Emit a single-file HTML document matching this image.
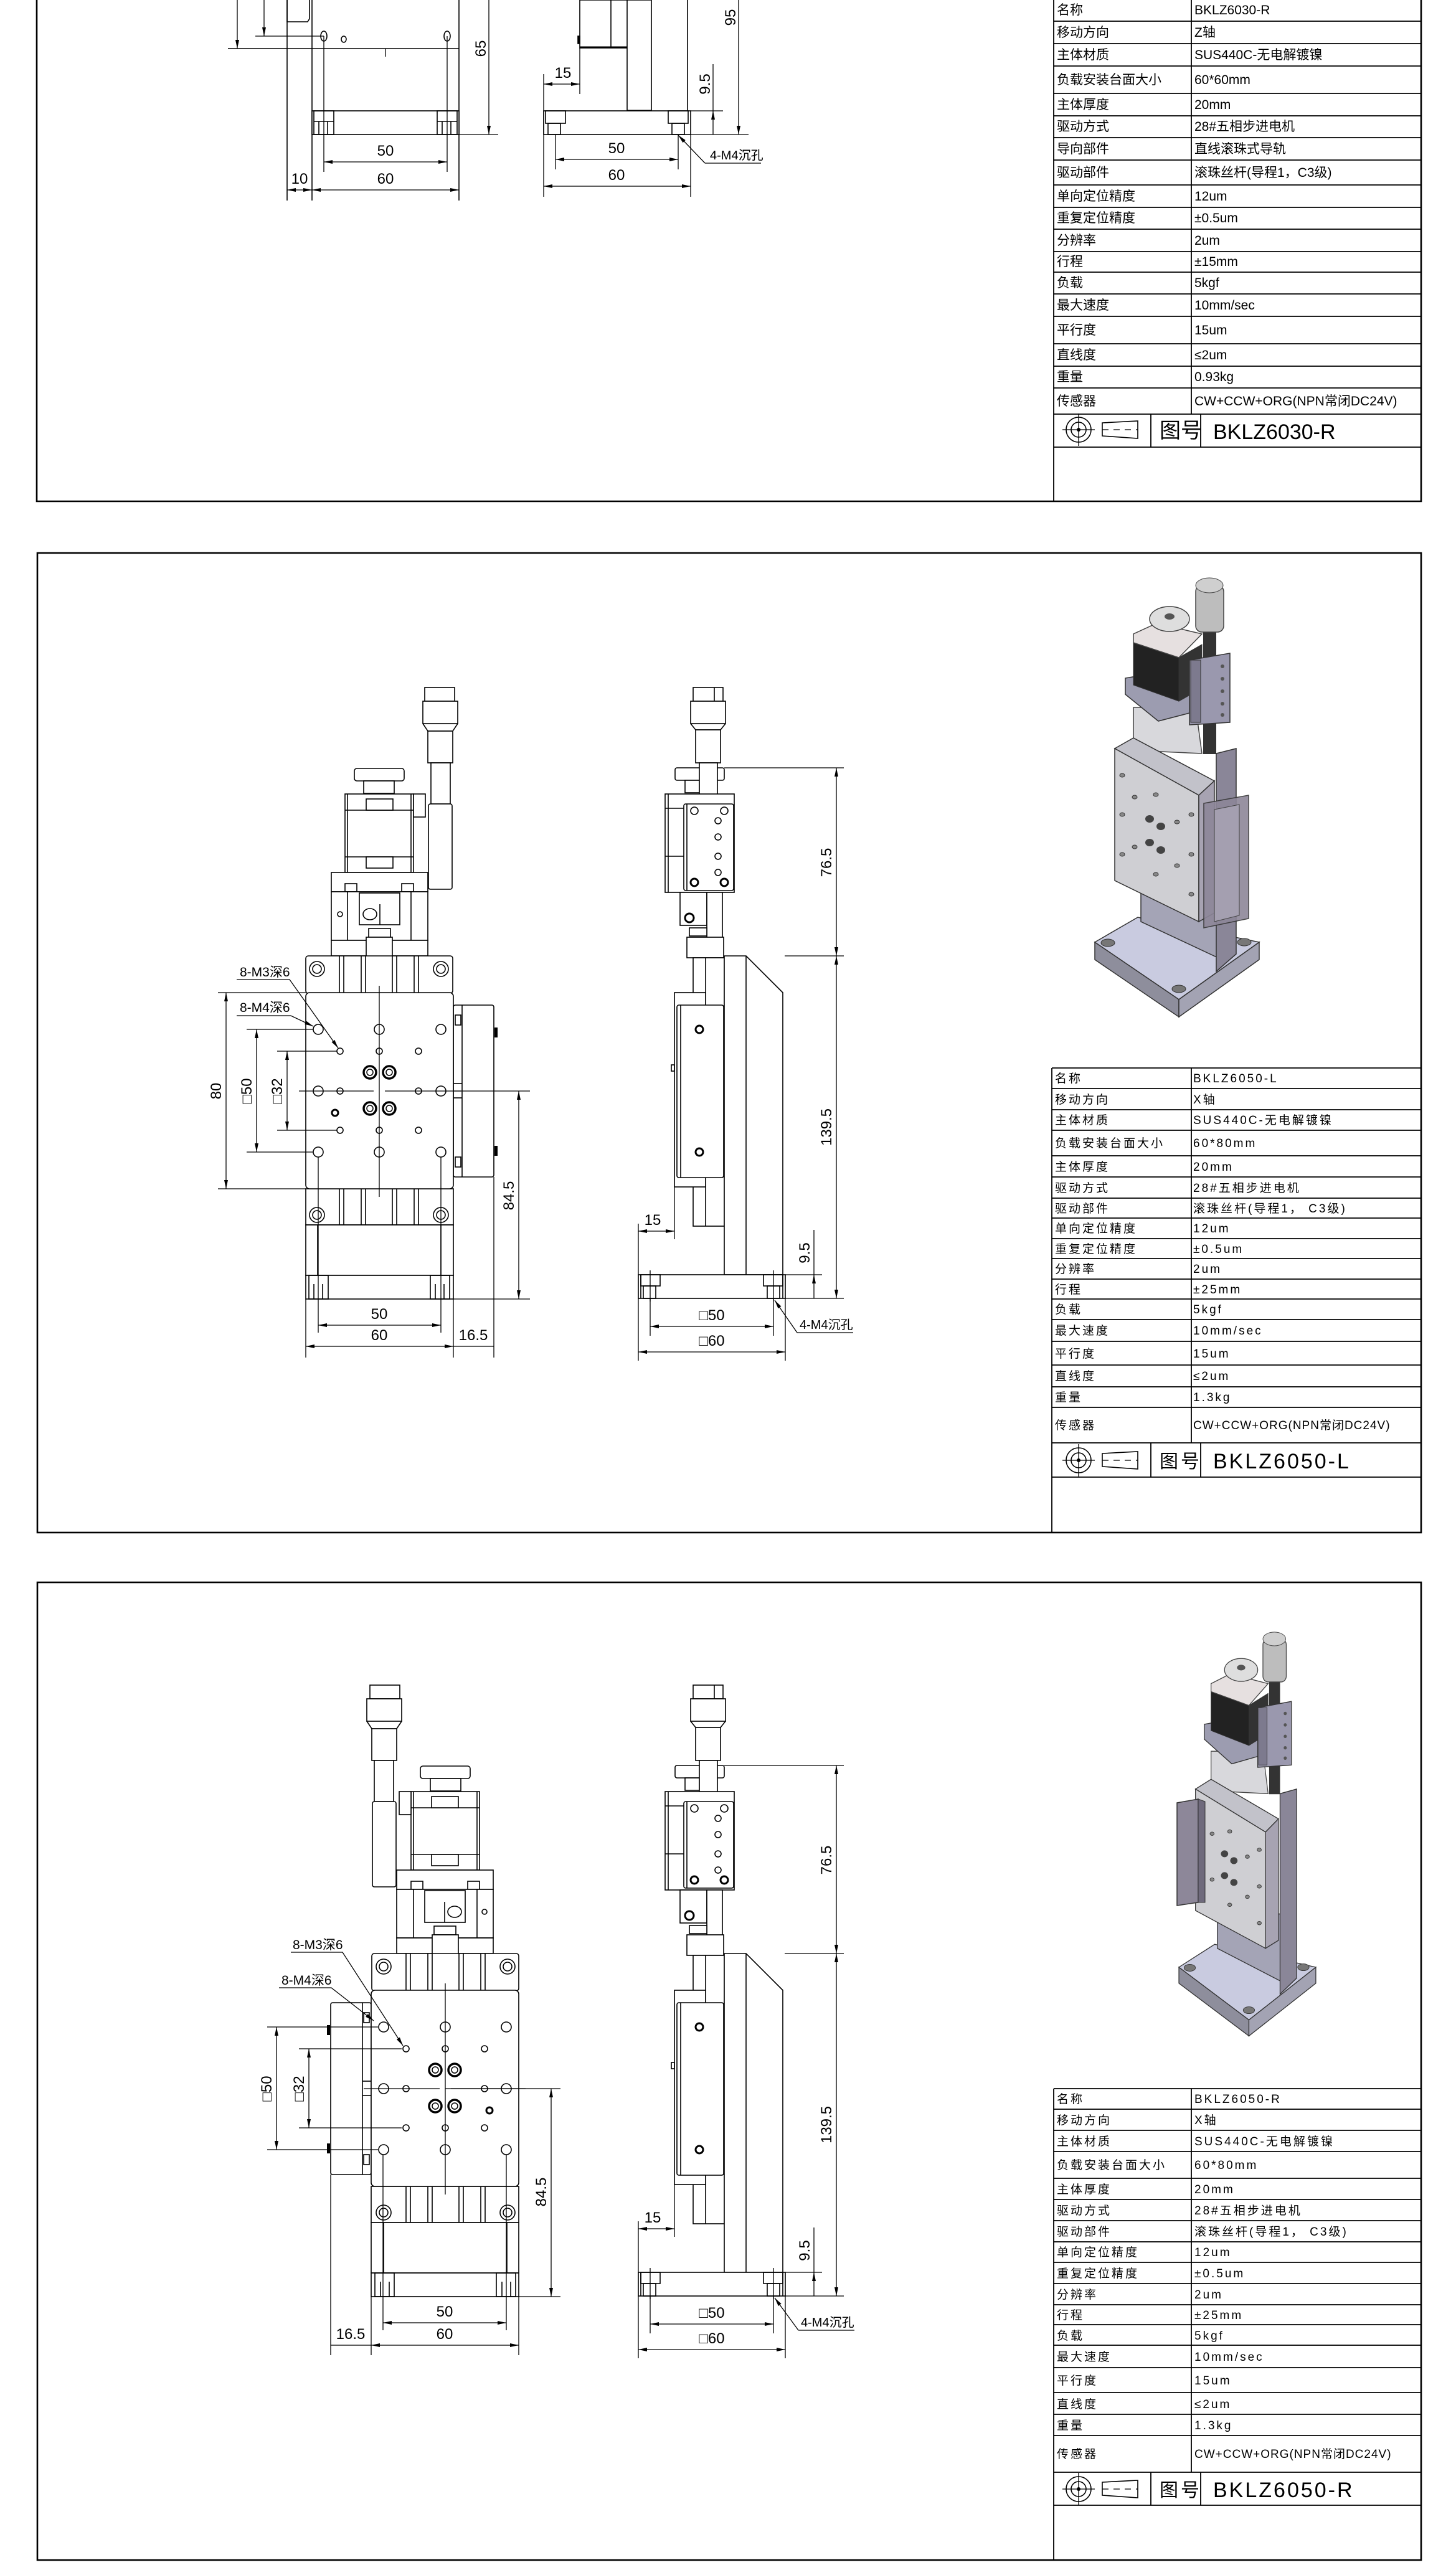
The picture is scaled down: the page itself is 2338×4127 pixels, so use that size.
<!DOCTYPE html>
<html><head><meta charset="utf-8">
<style>
html,body{margin:0;padding:0;background:#fff;}
svg{display:block;}
text{font-family:"Liberation Sans","Noto Sans CJK SC",sans-serif;fill:#000;}
.l{stroke:#000;stroke-width:1.6;fill:none;}
.b{stroke:#000;stroke-width:2.6;fill:none;}
.w{stroke:#000;stroke-width:1.6;fill:#fff;}
.d{stroke:#000;stroke-width:1.3;fill:none;}
.tb{stroke:#000;stroke-width:1.8;fill:none;}
.dim{font-size:24px;}
.t1{font-size:21px;}
.t2{font-size:19px;letter-spacing:3px;}
.big{font-size:34px;}
</style></head><body>
<svg width="2338" height="4127" viewBox="0 0 2338 4127" xmlns="http://www.w3.org/2000/svg">
<defs>
<marker id="a" viewBox="0 0 14 6" refX="14" refY="3" markerWidth="14" markerHeight="6" markerUnits="userSpaceOnUse" orient="auto-start-reverse"><path d="M0,0 L14,3 L0,6 z" fill="#000"/></marker>

<g id="sym">
<circle cx="1732" cy="0" r="20" class="l"/>
<circle cx="1732" cy="0" r="12" class="l"/>
<circle cx="1732" cy="0" r="3" fill="#000"/>
<line x1="1706" y1="0" x2="1758" y2="0" class="d"/>
<line x1="1732" y1="-26" x2="1732" y2="26" class="d"/>
<path d="M1770,-11 L1827,-14 L1827,14 L1770,10 Z" class="l"/>
<line x1="1770" y1="0" x2="1827" y2="0" class="d" stroke-dasharray="10,8"/>
</g>

<!-- front view geometry (panel 2 coords) -->
<g id="front">
<rect x="682" y="1104" width="48" height="22" class="w"/>
<rect x="679" y="1126" width="56" height="36" class="w"/>
<path d="M679,1162 L687,1174 L727,1174 L735,1162" class="l"/>
<rect x="687" y="1174" width="40" height="51" class="w"/>
<rect x="692" y="1225" width="31" height="66" class="w"/>
<rect x="688" y="1291" width="38" height="137" class="w" rx="3"/>
<rect x="569" y="1234" width="80" height="20" class="w" rx="4"/>
<rect x="584" y="1254" width="49" height="20" class="w"/>
<rect x="554" y="1275" width="110" height="126" class="w"/>
<line x1="558" y1="1275" x2="558" y2="1401" class="l"/><line x1="660" y1="1275" x2="660" y2="1401" class="l"/>
<line x1="554" y1="1301" x2="664" y2="1301" class="l"/><line x1="554" y1="1376" x2="664" y2="1376" class="l"/>
<rect x="588" y="1283" width="43" height="18" class="w"/><rect x="588" y="1376" width="43" height="18" class="w"/>
<rect x="664" y="1275" width="19" height="37" class="w"/>
<rect x="532" y="1401" width="155" height="31" class="w"/>
<rect x="554" y="1419" width="19" height="13" class="l"/><rect x="645" y="1419" width="19" height="13" class="l"/>
<rect x="532" y="1432" width="155" height="78" class="w"/>
<line x1="558" y1="1432" x2="558" y2="1510" class="l"/><line x1="660" y1="1432" x2="660" y2="1510" class="l"/>
<rect x="532" y="1510" width="155" height="25" class="w"/>
<rect x="577" y="1434" width="65" height="51" class="w"/>
<line x1="610" y1="1452" x2="610" y2="1485" class="l"/>
<ellipse cx="594" cy="1468" rx="11" ry="9" class="l"/>
<circle cx="546" cy="1468" r="4" class="l"/>
<rect x="592" y="1491" width="35" height="14" class="w"/>
<rect x="588" y="1505" width="42" height="34" class="w"/>
<rect x="491" y="1535" width="236" height="60" class="w" rx="4"/>
<g class="l"><line x1="545" y1="1535" x2="545" y2="1595"/><line x1="552" y1="1535" x2="552" y2="1595"/><line x1="580" y1="1535" x2="580" y2="1595"/><line x1="587" y1="1535" x2="587" y2="1595"/><line x1="630" y1="1535" x2="630" y2="1595"/><line x1="637" y1="1535" x2="637" y2="1595"/><line x1="665" y1="1535" x2="665" y2="1595"/><line x1="672" y1="1535" x2="672" y2="1595"/></g>
<circle cx="509" cy="1556" r="12" class="l"/><circle cx="509" cy="1556" r="7" class="l"/>
<circle cx="708" cy="1556" r="12" class="l"/><circle cx="708" cy="1556" r="7" class="l"/>
<rect x="491" y="1909" width="237" height="58" class="w"/>
<g class="l"><line x1="545" y1="1909" x2="545" y2="1967"/><line x1="552" y1="1909" x2="552" y2="1967"/><line x1="580" y1="1909" x2="580" y2="1967"/><line x1="587" y1="1909" x2="587" y2="1967"/><line x1="630" y1="1909" x2="630" y2="1967"/><line x1="637" y1="1909" x2="637" y2="1967"/><line x1="665" y1="1909" x2="665" y2="1967"/><line x1="672" y1="1909" x2="672" y2="1967"/></g>
<circle cx="509" cy="1951" r="12" class="l"/><circle cx="509" cy="1951" r="7" class="l"/>
<circle cx="708" cy="1951" r="12" class="l"/><circle cx="708" cy="1951" r="7" class="l"/>
<rect x="491" y="1967" width="237" height="81" class="w"/>
<line x1="510" y1="1967" x2="510" y2="2048" class="l"/><line x1="708" y1="1967" x2="708" y2="2048" class="l"/>
<rect x="491" y="2048" width="237" height="38" class="w"/>
<rect x="496" y="2048" width="31" height="38" class="l"/><line x1="504" y1="2062" x2="504" y2="2086" class="l"/><line x1="518" y1="2062" x2="518" y2="2086" class="l"/>
<rect x="691" y="2048" width="31" height="38" class="l"/><line x1="699" y1="2062" x2="699" y2="2086" class="l"/><line x1="713" y1="2062" x2="713" y2="2086" class="l"/>
<rect x="728" y="1614" width="65" height="276" class="w" rx="3"/>
<line x1="742" y1="1614" x2="742" y2="1890" class="l"/>
<line x1="728" y1="1740" x2="742" y2="1740" class="l"/><line x1="728" y1="1763" x2="742" y2="1763" class="l"/>
<rect x="731" y="1630" width="9" height="16" class="l"/><rect x="731" y="1858" width="9" height="16" class="l"/>
<rect x="794" y="1650" width="5" height="16" fill="#000"/><rect x="794" y="1840" width="5" height="16" fill="#000"/>
<rect x="491" y="1594" width="237" height="315" class="w" rx="6"/>
<line x1="609" y1="1583" x2="609" y2="1922" class="d"/>
<line x1="480" y1="1752" x2="600" y2="1752" class="d"/><line x1="618" y1="1752" x2="740" y2="1752" class="d"/>
<g class="l">
<circle cx="511" cy="1653" r="8"/><circle cx="609" cy="1653" r="8"/><circle cx="708" cy="1653" r="8"/>
<circle cx="511" cy="1752" r="8"/><circle cx="708" cy="1752" r="8"/>
<circle cx="511" cy="1850" r="8"/><circle cx="609" cy="1850" r="8"/><circle cx="708" cy="1850" r="8"/>
<circle cx="546" cy="1688" r="5"/><circle cx="609" cy="1688" r="5"/><circle cx="672" cy="1688" r="5"/>
<circle cx="546" cy="1752" r="5"/><circle cx="672" cy="1752" r="5"/>
<circle cx="546" cy="1815" r="5"/><circle cx="609" cy="1815" r="5"/><circle cx="672" cy="1815" r="5"/>
</g>
<circle cx="538" cy="1787" r="5" stroke="#000" stroke-width="3" fill="none"/>
<g stroke="#000" fill="none"><circle cx="594" cy="1722" r="10" stroke-width="3.5"/><circle cx="594" cy="1722" r="5" stroke-width="1.5"/><circle cx="625" cy="1722" r="10" stroke-width="3.5"/><circle cx="625" cy="1722" r="5" stroke-width="1.5"/><circle cx="594" cy="1780" r="10" stroke-width="3.5"/><circle cx="594" cy="1780" r="5" stroke-width="1.5"/><circle cx="625" cy="1780" r="10" stroke-width="3.5"/><circle cx="625" cy="1780" r="5" stroke-width="1.5"/></g>
</g>

<!-- side view geometry (panel 2 coords) -->
<g id="side">
<rect x="1113" y="1104" width="48" height="22" class="w"/>
<line x1="1147" y1="1104" x2="1147" y2="1126" class="l"/>
<rect x="1109" y="1126" width="56" height="36" class="w"/>
<path d="M1109,1162 L1117,1172 L1157,1172 L1165,1162" class="l"/>
<rect x="1117" y="1172" width="40" height="53" class="w"/>
<rect x="1084" y="1233" width="79" height="20" class="w" rx="3"/>
<rect x="1100" y="1253" width="23" height="20" class="w"/>
<rect x="1123" y="1225" width="29" height="66" class="w"/>
<rect x="1068" y="1275" width="111" height="158" class="w"/>
<line x1="1073" y1="1275" x2="1073" y2="1433" class="l"/>
<line x1="1068" y1="1298" x2="1098" y2="1298" class="l"/>
<line x1="1068" y1="1375" x2="1098" y2="1375" class="l"/>
<rect x="1098" y="1291" width="80" height="139" class="w" rx="3"/>
<line x1="1103" y1="1291" x2="1103" y2="1430" class="l"/>
<g class="l"><circle cx="1115" cy="1302" r="6"/><circle cx="1163" cy="1302" r="6"/><circle cx="1153" cy="1318" r="5"/><circle cx="1153" cy="1344" r="5"/><circle cx="1153" cy="1375" r="5"/><circle cx="1153" cy="1401" r="5"/></g>
<circle cx="1115" cy="1417" r="6" stroke="#000" stroke-width="3" fill="none"/><circle cx="1163" cy="1417" r="6" stroke="#000" stroke-width="3" fill="none"/>
<rect x="1092" y="1433" width="43" height="53" class="w"/>
<circle cx="1107" cy="1474" r="7" stroke="#000" stroke-width="3" fill="none"/>
<circle cx="1141" cy="1471" r="4" class="l"/>
<rect x="1135" y="1433" width="25" height="102" class="w"/>
<rect x="1107" y="1490" width="28" height="13" class="w"/>
<rect x="1103" y="1505" width="59" height="33" class="w"/>
<rect x="1113" y="1538" width="50" height="431" class="w"/>
<line x1="1133" y1="1538" x2="1133" y2="1969" class="l"/>
<path d="M1163,1535 L1198,1535 L1257,1594 L1257,2047 L1163,2047 Z" class="w"/>
<line x1="1198" y1="1535" x2="1198" y2="2047" class="l"/>
<rect x="1083" y="1594" width="50" height="312" class="w"/>
<rect x="1087" y="1614" width="75" height="277" class="w" rx="3"/>
<line x1="1093" y1="1614" x2="1093" y2="1891" class="l"/>
<rect x="1078" y="1710" width="5" height="10" class="l"/>
<circle cx="1123" cy="1653" r="6" stroke="#000" stroke-width="3" fill="none"/>
<circle cx="1123" cy="1850" r="6" stroke="#000" stroke-width="3" fill="none"/>
<rect x="1025" y="2047" width="236" height="38" class="w"/>
<line x1="1029" y1="2047" x2="1029" y2="2085" class="l"/><line x1="1257" y1="2047" x2="1257" y2="2085" class="l"/>
<rect x="1029" y="2047" width="31" height="18" class="l"/><rect x="1033" y="2065" width="20" height="20" class="l"/>
<rect x="1226" y="2047" width="31" height="18" class="l"/><rect x="1232" y="2065" width="20" height="20" class="l"/>
<line x1="1044" y1="2040" x2="1044" y2="2090" class="d"/><line x1="1242" y1="2040" x2="1242" y2="2090" class="d"/>
</g>

<!-- iso view (panel 2 coords) -->
<g id="iso">
<path d="M1758,1513 L1827,1473 L2022,1513 L1893,1605 Z" fill="#c9cbe0" stroke="#333" stroke-width="1.5"/>
<path d="M1758,1513 L1893,1605 L1893,1633 L1758,1541 Z" fill="#8e8e9c" stroke="#333" stroke-width="1.5"/>
<path d="M1893,1605 L2022,1513 L2022,1541 L1893,1633 Z" fill="#a3a3b3" stroke="#333" stroke-width="1.5"/>
<ellipse cx="1779" cy="1514" rx="11" ry="6" fill="#777" stroke="#333"/>
<ellipse cx="1893" cy="1588" rx="11" ry="6" fill="#777" stroke="#333"/>
<ellipse cx="1998" cy="1513" rx="11" ry="6" fill="#777" stroke="#333"/>
<path d="M1832,1420 L1960,1420 L1960,1540 L1832,1480 Z" fill="#a4a4b6" stroke="#333" stroke-width="1.5"/>
<path d="M1953,1210 L1985,1202 L1985,1532 L1953,1560 Z" fill="#8a8698" stroke="#333" stroke-width="1.5"/>
<path d="M1820,1136 L1920,1136 L1930,1210 L1820,1205 Z" fill="#d8d8dc" stroke="#444" stroke-width="1.5"/>
<path d="M1790,1202 L1820,1185 L1950,1254 L1925,1277 Z" fill="#c2c2ca" stroke="#333" stroke-width="1.5"/>
<path d="M1790,1202 L1925,1277 L1925,1480 L1790,1414 Z" fill="#cfcfd3" stroke="#333" stroke-width="1.5"/>
<path d="M1925,1277 L1950,1254 L1950,1466 L1925,1480 Z" fill="#a7a3b2" stroke="#333" stroke-width="1.5"/>
<g fill="#888" stroke="#333"><ellipse cx="1802" cy="1245" rx="4" ry="3"/><ellipse cx="1802" cy="1308" rx="4" ry="3"/><ellipse cx="1802" cy="1372" rx="4" ry="3"/><ellipse cx="1856" cy="1276" rx="4" ry="3"/><ellipse cx="1913" cy="1308" rx="4" ry="3"/><ellipse cx="1913" cy="1372" rx="4" ry="3"/><ellipse cx="1913" cy="1436" rx="4" ry="3"/><ellipse cx="1856" cy="1404" rx="4" ry="3"/><ellipse cx="1822" cy="1280" rx="4" ry="3"/><ellipse cx="1822" cy="1360" rx="4" ry="3"/><ellipse cx="1890" cy="1320" rx="4" ry="3"/><ellipse cx="1890" cy="1390" rx="4" ry="3"/></g>
<g fill="#444"><ellipse cx="1846" cy="1315" rx="7" ry="6"/><ellipse cx="1864" cy="1327" rx="7" ry="6"/><ellipse cx="1846" cy="1353" rx="7" ry="6"/><ellipse cx="1864" cy="1365" rx="7" ry="6"/></g>
<path d="M1807,1089 L1860,1080 L1910,1100 L1910,1145 L1860,1158 L1807,1115 Z" fill="#9c9cb0" stroke="#333" stroke-width="1.5"/>
<path d="M1820,1032 L1893,1056 L1893,1126 L1820,1100 Z" fill="#222" stroke="#333"/>
<path d="M1893,1056 L1930,1035 L1930,1105 L1893,1126 Z" fill="#333" stroke="#333"/>
<path d="M1820,1018 L1857,1001 L1930,1018 L1893,1056 L1820,1032 Z" fill="#e6e0e0" stroke="#444" stroke-width="1.5"/>
<ellipse cx="1878" cy="994" rx="32" ry="20" fill="#dedede" stroke="#444" stroke-width="1.5"/>
<ellipse cx="1878" cy="990" rx="8" ry="5" fill="#555"/>
<rect x="1932" y="1000" width="21" height="211" fill="#333"/>
<path d="M1910,1060 L1975,1049 L1975,1160 L1910,1164 Z" fill="#9a98ae" stroke="#333" stroke-width="1.5"/>
<rect x="1912" y="1060" width="16" height="100" fill="#7d7a8e" stroke="#333"/>
<g fill="#555"><circle cx="1963" cy="1070" r="3"/><circle cx="1963" cy="1090" r="3"/><circle cx="1963" cy="1110" r="3"/><circle cx="1963" cy="1130" r="3"/><circle cx="1963" cy="1148" r="3"/></g>
<rect x="1920" y="940" width="45" height="75" rx="10" fill="#bdbdbd" stroke="#444" stroke-width="1.5"/>
<ellipse cx="1942" cy="940" rx="22" ry="12" fill="#cfcfcf" stroke="#444"/>
</g>
</defs>

<!-- ============ PANEL 1 ============ -->
<path d="M59,0 L59,805 L2282,805 L2282,0" class="b"/>
<!-- front view -->
<g class="l">
<line x1="461" y1="0" x2="461" y2="322"/>
<line x1="501" y1="0" x2="501" y2="322"/>
<line x1="737" y1="0" x2="737" y2="322"/>
<path d="M461,0 L461,35 L494,35 L497,30 L497,0"/>
<line x1="366" y1="78" x2="737" y2="78"/>
<rect x="501" y="178" width="236" height="38" fill="#fff"/>
<rect x="504" y="178" width="32" height="38"/><line x1="512" y1="195" x2="512" y2="216"/><line x1="526" y1="195" x2="526" y2="216"/><line x1="504" y1="195" x2="536" y2="195"/>
<rect x="702" y="178" width="32" height="38"/><line x1="710" y1="195" x2="710" y2="216"/><line x1="724" y1="195" x2="724" y2="216"/><line x1="702" y1="195" x2="734" y2="195"/>
<ellipse cx="520" cy="58" rx="5" ry="8"/><ellipse cx="552" cy="63" rx="4" ry="5"/><ellipse cx="718" cy="58" rx="5" ry="8"/>
</g>
<line x1="619" y1="78" x2="619" y2="91" class="d"/>
<line x1="520" y1="58" x2="520" y2="276" class="d"/><line x1="718" y1="58" x2="718" y2="276" class="d"/>
<line x1="410" y1="58" x2="520" y2="58" class="d"/>
<line x1="424" y1="0" x2="424" y2="58" class="d" marker-end="url(#a)"/>
<line x1="381" y1="0" x2="381" y2="78" class="d" marker-end="url(#a)"/>
<line x1="737" y1="216" x2="800" y2="216" class="d"/>
<line x1="785" y1="0" x2="785" y2="216" class="d" marker-end="url(#a)"/>
<text class="dim" transform="translate(780,78) rotate(-90)" text-anchor="middle">65</text>
<line x1="520" y1="260" x2="718" y2="260" class="d" marker-start="url(#a)" marker-end="url(#a)"/>
<text class="dim" x="619" y="250" text-anchor="middle">50</text>
<line x1="501" y1="305" x2="737" y2="305" class="d" marker-start="url(#a)" marker-end="url(#a)"/>
<text class="dim" x="619" y="295" text-anchor="middle">60</text>
<line x1="461" y1="305" x2="501" y2="305" class="d" marker-start="url(#a)" marker-end="url(#a)"/>
<text class="dim" x="481" y="295" text-anchor="middle">10</text>
<!-- side view -->
<g class="l">
<rect x="931" y="0" width="80" height="77" fill="#fff"/>
<line x1="981" y1="0" x2="981" y2="77"/>
<line x1="931" y1="76" x2="1011" y2="76" stroke-width="3"/>
<rect x="1007" y="0" width="39" height="178" fill="#fff"/>
<line x1="1007" y1="178" x2="1046" y2="178" stroke-width="3"/>
<line x1="1104" y1="0" x2="1104" y2="178"/>
<rect x="873" y="178" width="236" height="38" fill="#fff"/>
<rect x="876" y="178" width="32" height="20"/><rect x="880" y="198" width="20" height="18"/>
<rect x="1073" y="178" width="32" height="20"/><rect x="1079" y="198" width="20" height="18"/>
<rect x="928" y="58" width="3" height="12" fill="#000"/>
</g>
<line x1="931" y1="77" x2="931" y2="151" class="d"/>
<line x1="873" y1="119" x2="873" y2="216" class="d"/>
<line x1="873" y1="135" x2="931" y2="135" class="d" marker-start="url(#a)" marker-end="url(#a)"/>
<text class="dim" x="904" y="125" text-anchor="middle">15</text>
<line x1="1109" y1="178" x2="1161" y2="178" class="d"/>
<line x1="1109" y1="216" x2="1202" y2="216" class="d"/>
<line x1="1145" y1="103" x2="1145" y2="178" class="d"/>
<line x1="1145" y1="216" x2="1145" y2="178" class="d" marker-end="url(#a)"/>
<text class="dim" transform="translate(1140,135) rotate(-90)" text-anchor="middle">9.5</text>
<line x1="1186" y1="0" x2="1186" y2="216" class="d" marker-end="url(#a)"/>
<text class="dim" transform="translate(1181,28) rotate(-90)" text-anchor="middle">95</text>
<line x1="892" y1="216" x2="892" y2="272" class="d"/><line x1="1089" y1="216" x2="1089" y2="272" class="d"/>
<line x1="892" y1="256" x2="1089" y2="256" class="d" marker-start="url(#a)" marker-end="url(#a)"/>
<text class="dim" x="990" y="246" text-anchor="middle">50</text>
<line x1="873" y1="216" x2="873" y2="316" class="d"/><line x1="1109" y1="216" x2="1109" y2="316" class="d"/>
<line x1="873" y1="299" x2="1109" y2="299" class="d" marker-start="url(#a)" marker-end="url(#a)"/>
<text class="dim" x="990" y="289" text-anchor="middle">60</text>
<line x1="1132" y1="262" x2="1089" y2="217" class="d" marker-end="url(#a)"/>
<line x1="1132" y1="262" x2="1222" y2="262" class="d"/>
<text x="1140" y="256" font-size="20">4-M4沉孔</text>
<!-- table 1 -->
<g class="tb">
<line x1="1692" y1="0" x2="1692" y2="805"/>
<line x1="1913" y1="0" x2="1913" y2="665"/>
<line x1="1848" y1="665" x2="1848" y2="718"/><line x1="1928" y1="665" x2="1928" y2="718"/>
<line x1="1692" y1="34" x2="2282" y2="34"/><line x1="1692" y1="70" x2="2282" y2="70"/><line x1="1692" y1="106" x2="2282" y2="106"/><line x1="1692" y1="150" x2="2282" y2="150"/><line x1="1692" y1="186" x2="2282" y2="186"/><line x1="1692" y1="221" x2="2282" y2="221"/><line x1="1692" y1="257" x2="2282" y2="257"/><line x1="1692" y1="297" x2="2282" y2="297"/><line x1="1692" y1="333" x2="2282" y2="333"/><line x1="1692" y1="368" x2="2282" y2="368"/><line x1="1692" y1="404" x2="2282" y2="404"/><line x1="1692" y1="437" x2="2282" y2="437"/><line x1="1692" y1="472" x2="2282" y2="472"/><line x1="1692" y1="508" x2="2282" y2="508"/><line x1="1692" y1="552" x2="2282" y2="552"/><line x1="1692" y1="588" x2="2282" y2="588"/><line x1="1692" y1="623" x2="2282" y2="623"/><line x1="1692" y1="665" x2="2282" y2="665"/><line x1="1692" y1="718" x2="2282" y2="718"/>
</g>
<g class="t1">
<text x="1697" y="23">名称</text><text x="1918" y="23">BKLZ6030-R</text>
<text x="1697" y="59">移动方向</text><text x="1918" y="59">Z轴</text>
<text x="1697" y="95">主体材质</text><text x="1918" y="95">SUS440C-无电解镀镍</text>
<text x="1697" y="135">负载安装台面大小</text><text x="1918" y="135">60*60mm</text>
<text x="1697" y="175">主体厚度</text><text x="1918" y="175">20mm</text>
<text x="1697" y="210">驱动方式</text><text x="1918" y="210">28#五相步进电机</text>
<text x="1697" y="246">导向部件</text><text x="1918" y="246">直线滚珠式导轨</text>
<text x="1697" y="284">驱动部件</text><text x="1918" y="284">滚珠丝杆(导程1，C3级)</text>
<text x="1697" y="322">单向定位精度</text><text x="1918" y="322">12um</text>
<text x="1697" y="357">重复定位精度</text><text x="1918" y="357">±0.5um</text>
<text x="1697" y="393">分辨率</text><text x="1918" y="393">2um</text>
<text x="1697" y="427">行程</text><text x="1918" y="427">±15mm</text>
<text x="1697" y="461">负载</text><text x="1918" y="461">5kgf</text>
<text x="1697" y="497">最大速度</text><text x="1918" y="497">10mm/sec</text>
<text x="1697" y="537">平行度</text><text x="1918" y="537">15um</text>
<text x="1697" y="577">直线度</text><text x="1918" y="577">≤2um</text>
<text x="1697" y="612">重量</text><text x="1918" y="612">0.93kg</text>
<text x="1697" y="651">传感器</text><text x="1918" y="651">CW+CCW+ORG(NPN常闭DC24V)</text>
</g>
<use href="#sym" transform="translate(0,690)"/>
<text class="big" x="1862" y="703" font-size="30">图号</text>
<text class="big" x="1948" y="705">BKLZ6030-R</text>

<!-- ============ PANEL 2 ============ -->
<rect x="60" y="888" width="2222" height="1573" class="b"/>
<use href="#front"/>
<use href="#side"/>
<use href="#iso"/>
<path d="M1933,1290 L2005,1277 L2005,1475 L1933,1490 Z" fill="#8d8799" stroke="#333" stroke-width="1.5" opacity="0.9"/>
<path d="M1950,1300 L1990,1292 L1990,1470 L1950,1480 Z" fill="#a49fb0" stroke="#444"/>
<!-- front dims -->
<line x1="350" y1="1594" x2="491" y2="1594" class="d"/><line x1="350" y1="1909" x2="491" y2="1909" class="d"/>
<line x1="363" y1="1594" x2="363" y2="1909" class="d" marker-start="url(#a)" marker-end="url(#a)"/>
<text class="dim" transform="translate(355,1752) rotate(-90)" text-anchor="middle">80</text>
<line x1="396" y1="1653" x2="503" y2="1653" class="d"/><line x1="396" y1="1850" x2="503" y2="1850" class="d"/>
<line x1="412" y1="1653" x2="412" y2="1850" class="d" marker-start="url(#a)" marker-end="url(#a)"/>
<text class="dim" transform="translate(404,1752) rotate(-90)" text-anchor="middle">□50</text>
<line x1="445" y1="1688" x2="541" y2="1688" class="d"/><line x1="445" y1="1815" x2="541" y2="1815" class="d"/>
<line x1="461" y1="1688" x2="461" y2="1815" class="d" marker-start="url(#a)" marker-end="url(#a)"/>
<text class="dim" transform="translate(453,1752) rotate(-90)" text-anchor="middle">□32</text>
<line x1="728" y1="1752" x2="851" y2="1752" class="d"/><line x1="728" y1="2086" x2="851" y2="2086" class="d"/>
<line x1="833" y1="1752" x2="833" y2="2086" class="d" marker-start="url(#a)" marker-end="url(#a)"/>
<text class="dim" transform="translate(825,1920) rotate(-90)" text-anchor="middle">84.5</text>
<line x1="511" y1="1858" x2="511" y2="2140" class="d"/><line x1="708" y1="1858" x2="708" y2="2140" class="d"/>
<line x1="511" y1="2128" x2="708" y2="2128" class="d" marker-start="url(#a)" marker-end="url(#a)"/>
<text class="dim" x="609" y="2118" text-anchor="middle">50</text>
<line x1="491" y1="2086" x2="491" y2="2180" class="d"/><line x1="728" y1="2086" x2="728" y2="2180" class="d"/><line x1="793" y1="1890" x2="793" y2="2180" class="d"/>
<line x1="491" y1="2162" x2="728" y2="2162" class="d" marker-start="url(#a)" marker-end="url(#a)"/>
<text class="dim" x="609" y="2152" text-anchor="middle">60</text>
<line x1="728" y1="2162" x2="793" y2="2162" class="d"/>
<text class="dim" x="760" y="2152" text-anchor="middle">16.5</text>
<text x="385" y="1568" font-size="21">8-M3深6</text>
<path d="M380,1573 L465,1573 L543,1683" class="d" marker-end="url(#a)"/>
<text x="385" y="1625" font-size="21">8-M4深6</text>
<path d="M380,1631 L467,1631 L503,1648" class="d" marker-end="url(#a)"/>
<!-- side dims -->
<line x1="1163" y1="1233" x2="1355" y2="1233" class="d"/><line x1="1260" y1="1535" x2="1355" y2="1535" class="d"/><line x1="1261" y1="2085" x2="1355" y2="2085" class="d"/><line x1="1261" y1="2047" x2="1320" y2="2047" class="d"/>
<line x1="1343" y1="1233" x2="1343" y2="1535" class="d" marker-start="url(#a)" marker-end="url(#a)"/>
<text class="dim" transform="translate(1335,1385) rotate(-90)" text-anchor="middle">76.5</text>
<line x1="1343" y1="1535" x2="1343" y2="2085" class="d" marker-start="url(#a)" marker-end="url(#a)"/>
<text class="dim" transform="translate(1335,1810) rotate(-90)" text-anchor="middle">139.5</text>
<line x1="1307" y1="1975" x2="1307" y2="2047" class="d"/>
<line x1="1307" y1="2085" x2="1307" y2="2047" class="d" marker-end="url(#a)"/>
<text class="dim" transform="translate(1300,2012) rotate(-90)" text-anchor="middle">9.5</text>
<line x1="1083" y1="1906" x2="1083" y2="1990" class="d"/><line x1="1025" y1="1965" x2="1025" y2="2047" class="d"/>
<line x1="1025" y1="1977" x2="1083" y2="1977" class="d" marker-start="url(#a)" marker-end="url(#a)"/>
<text class="dim" x="1048" y="1967" text-anchor="middle">15</text>
<line x1="1044" y1="2085" x2="1044" y2="2145" class="d"/><line x1="1242" y1="2085" x2="1242" y2="2145" class="d"/>
<line x1="1044" y1="2130" x2="1242" y2="2130" class="d" marker-start="url(#a)" marker-end="url(#a)"/>
<text class="dim" x="1143" y="2120" text-anchor="middle">□50</text>
<line x1="1025" y1="2085" x2="1025" y2="2185" class="d"/><line x1="1261" y1="2085" x2="1261" y2="2185" class="d"/>
<line x1="1025" y1="2171" x2="1261" y2="2171" class="d" marker-start="url(#a)" marker-end="url(#a)"/>
<text class="dim" x="1143" y="2161" text-anchor="middle">□60</text>
<line x1="1280" y1="2140" x2="1244" y2="2088" class="d" marker-end="url(#a)"/>
<line x1="1280" y1="2140" x2="1370" y2="2140" class="d"/>
<text x="1284" y="2134" font-size="20">4-M4沉孔</text>
<!-- table 2 -->
<g class="tb">
<line x1="1689" y1="1715" x2="1689" y2="2461"/>
<line x1="1913" y1="1715" x2="1913" y2="2317"/>
<line x1="1848" y1="2317" x2="1848" y2="2372"/><line x1="1928" y1="2317" x2="1928" y2="2372"/>
<line x1="1689" y1="1715" x2="2282" y2="1715"/><line x1="1689" y1="1748" x2="2282" y2="1748"/><line x1="1689" y1="1782" x2="2282" y2="1782"/><line x1="1689" y1="1815" x2="2282" y2="1815"/><line x1="1689" y1="1856" x2="2282" y2="1856"/><line x1="1689" y1="1890" x2="2282" y2="1890"/><line x1="1689" y1="1924" x2="2282" y2="1924"/><line x1="1689" y1="1956" x2="2282" y2="1956"/><line x1="1689" y1="1989" x2="2282" y2="1989"/><line x1="1689" y1="2021" x2="2282" y2="2021"/><line x1="1689" y1="2054" x2="2282" y2="2054"/><line x1="1689" y1="2086" x2="2282" y2="2086"/><line x1="1689" y1="2119" x2="2282" y2="2119"/><line x1="1689" y1="2154" x2="2282" y2="2154"/><line x1="1689" y1="2192" x2="2282" y2="2192"/><line x1="1689" y1="2227" x2="2282" y2="2227"/><line x1="1689" y1="2260" x2="2282" y2="2260"/><line x1="1689" y1="2317" x2="2282" y2="2317"/><line x1="1689" y1="2372" x2="2282" y2="2372"/>
</g>
<g class="t2">
<text x="1694" y="1738">名称</text><text x="1916" y="1738">BKLZ6050-L</text>
<text x="1694" y="1772">移动方向</text><text x="1916" y="1772">X轴</text>
<text x="1694" y="1805">主体材质</text><text x="1916" y="1805">SUS440C-无电解镀镍</text>
<text x="1694" y="1842">负载安装台面大小</text><text x="1916" y="1842">60*80mm</text>
<text x="1694" y="1880">主体厚度</text><text x="1916" y="1880">20mm</text>
<text x="1694" y="1914">驱动方式</text><text x="1916" y="1914">28#五相步进电机</text>
<text x="1694" y="1947">驱动部件</text><text x="1916" y="1947">滚珠丝杆(导程1， C3级)</text>
<text x="1694" y="1979">单向定位精度</text><text x="1916" y="1979">12um</text>
<text x="1694" y="2012">重复定位精度</text><text x="1916" y="2012">±0.5um</text>
<text x="1694" y="2044">分辨率</text><text x="1916" y="2044">2um</text>
<text x="1694" y="2077">行程</text><text x="1916" y="2077">±25mm</text>
<text x="1694" y="2109">负载</text><text x="1916" y="2109">5kgf</text>
<text x="1694" y="2143">最大速度</text><text x="1916" y="2143">10mm/sec</text>
<text x="1694" y="2180">平行度</text><text x="1916" y="2180">15um</text>
<text x="1694" y="2216">直线度</text><text x="1916" y="2216">≤2um</text>
<text x="1694" y="2250">重量</text><text x="1916" y="2250">1.3kg</text>
<text x="1694" y="2295">传感器</text><text x="1916" y="2295" letter-spacing="1">CW+CCW+ORG(NPN常闭DC24V)</text>
</g>
<use href="#sym" transform="translate(0,2345)"/>
<text x="1862" y="2357" font-size="30" letter-spacing="4">图号</text>
<text class="big" x="1948" y="2358" letter-spacing="3">BKLZ6050-L</text>

<!-- ============ PANEL 3 ============ -->
<rect x="60" y="2541" width="2222" height="1570" class="b"/>
<use href="#front" transform="translate(1324,1602) scale(-1,1)"/>
<use href="#side" transform="translate(0,1602)"/>
<use href="#iso" transform="matrix(0.833 0 0 0.92 428.6 1767.1)"/>
<path d="M1890,2895 L1924,2889 L1924,3055 L1890,3060 Z" fill="#8d8799" stroke="#333" stroke-width="1.5"/>
<path d="M1924,2889 L1935,2893 L1935,3055 L1924,3055 Z" fill="#6f6a7c" stroke="#333"/>
<!-- front dims -->
<line x1="429" y1="3255" x2="607" y2="3255" class="d"/><line x1="429" y1="3452" x2="607" y2="3452" class="d"/>
<line x1="444" y1="3255" x2="444" y2="3452" class="d" marker-start="url(#a)" marker-end="url(#a)"/>
<text class="dim" transform="translate(436,3354) rotate(-90)" text-anchor="middle">□50</text>
<line x1="480" y1="3290" x2="645" y2="3290" class="d"/><line x1="480" y1="3417" x2="645" y2="3417" class="d"/>
<line x1="496" y1="3290" x2="496" y2="3417" class="d" marker-start="url(#a)" marker-end="url(#a)"/>
<text class="dim" transform="translate(488,3354) rotate(-90)" text-anchor="middle">□32</text>
<line x1="715" y1="3354" x2="900" y2="3354" class="d"/><line x1="833" y1="3688" x2="900" y2="3688" class="d"/>
<line x1="885" y1="3354" x2="885" y2="3688" class="d" marker-start="url(#a)" marker-end="url(#a)"/>
<text class="dim" transform="translate(877,3520) rotate(-90)" text-anchor="middle">84.5</text>
<line x1="615" y1="3460" x2="615" y2="3742" class="d"/><line x1="813" y1="3460" x2="813" y2="3742" class="d"/>
<line x1="615" y1="3730" x2="813" y2="3730" class="d" marker-start="url(#a)" marker-end="url(#a)"/>
<text class="dim" x="714" y="3720" text-anchor="middle">50</text>
<line x1="596" y1="3688" x2="596" y2="3782" class="d"/><line x1="833" y1="3688" x2="833" y2="3782" class="d"/><line x1="531" y1="3492" x2="531" y2="3782" class="d"/>
<line x1="596" y1="3766" x2="833" y2="3766" class="d" marker-start="url(#a)" marker-end="url(#a)"/>
<text class="dim" x="714" y="3756" text-anchor="middle">60</text>
<line x1="531" y1="3766" x2="596" y2="3766" class="d"/>
<text class="dim" x="563" y="3756" text-anchor="middle">16.5</text>
<text x="470" y="3130" font-size="21">8-M3深6</text>
<path d="M467,3135 L550,3135 L647,3285" class="d" marker-end="url(#a)"/>
<text x="452" y="3187" font-size="21">8-M4深6</text>
<path d="M448,3192 L532,3192 L600,3245" class="d" marker-end="url(#a)"/>
<!-- side dims -->
<line x1="1163" y1="2835" x2="1355" y2="2835" class="d"/><line x1="1260" y1="3137" x2="1355" y2="3137" class="d"/><line x1="1261" y1="3687" x2="1355" y2="3687" class="d"/><line x1="1261" y1="3649" x2="1320" y2="3649" class="d"/>
<line x1="1343" y1="2835" x2="1343" y2="3137" class="d" marker-start="url(#a)" marker-end="url(#a)"/>
<text class="dim" transform="translate(1335,2987) rotate(-90)" text-anchor="middle">76.5</text>
<line x1="1343" y1="3137" x2="1343" y2="3687" class="d" marker-start="url(#a)" marker-end="url(#a)"/>
<text class="dim" transform="translate(1335,3412) rotate(-90)" text-anchor="middle">139.5</text>
<line x1="1307" y1="3577" x2="1307" y2="3649" class="d"/>
<line x1="1307" y1="3687" x2="1307" y2="3649" class="d" marker-end="url(#a)"/>
<text class="dim" transform="translate(1300,3614) rotate(-90)" text-anchor="middle">9.5</text>
<line x1="1083" y1="3508" x2="1083" y2="3592" class="d"/><line x1="1025" y1="3567" x2="1025" y2="3649" class="d"/>
<line x1="1025" y1="3579" x2="1083" y2="3579" class="d" marker-start="url(#a)" marker-end="url(#a)"/>
<text class="dim" x="1048" y="3569" text-anchor="middle">15</text>
<line x1="1044" y1="3687" x2="1044" y2="3747" class="d"/><line x1="1242" y1="3687" x2="1242" y2="3747" class="d"/>
<line x1="1044" y1="3732" x2="1242" y2="3732" class="d" marker-start="url(#a)" marker-end="url(#a)"/>
<text class="dim" x="1143" y="3722" text-anchor="middle">□50</text>
<line x1="1025" y1="3687" x2="1025" y2="3787" class="d"/><line x1="1261" y1="3687" x2="1261" y2="3787" class="d"/>
<line x1="1025" y1="3773" x2="1261" y2="3773" class="d" marker-start="url(#a)" marker-end="url(#a)"/>
<text class="dim" x="1143" y="3763" text-anchor="middle">□60</text>
<line x1="1282" y1="3742" x2="1244" y2="3690" class="d" marker-end="url(#a)"/>
<line x1="1282" y1="3742" x2="1372" y2="3742" class="d"/>
<text x="1286" y="3736" font-size="20">4-M4沉孔</text>
<!-- table 3 -->
<g class="tb">
<line x1="1692" y1="3354" x2="1692" y2="4111"/>
<line x1="1913" y1="3354" x2="1913" y2="3970"/>
<line x1="1848" y1="3970" x2="1848" y2="4023"/><line x1="1928" y1="3970" x2="1928" y2="4023"/>
<line x1="1692" y1="3354" x2="2282" y2="3354"/><line x1="1692" y1="3387" x2="2282" y2="3387"/><line x1="1692" y1="3421" x2="2282" y2="3421"/><line x1="1692" y1="3455" x2="2282" y2="3455"/><line x1="1692" y1="3498" x2="2282" y2="3498"/><line x1="1692" y1="3532" x2="2282" y2="3532"/><line x1="1692" y1="3566" x2="2282" y2="3566"/><line x1="1692" y1="3600" x2="2282" y2="3600"/><line x1="1692" y1="3633" x2="2282" y2="3633"/><line x1="1692" y1="3667" x2="2282" y2="3667"/><line x1="1692" y1="3701" x2="2282" y2="3701"/><line x1="1692" y1="3733" x2="2282" y2="3733"/><line x1="1692" y1="3766" x2="2282" y2="3766"/><line x1="1692" y1="3802" x2="2282" y2="3802"/><line x1="1692" y1="3842" x2="2282" y2="3842"/><line x1="1692" y1="3877" x2="2282" y2="3877"/><line x1="1692" y1="3911" x2="2282" y2="3911"/><line x1="1692" y1="3970" x2="2282" y2="3970"/><line x1="1692" y1="4023" x2="2282" y2="4023"/>
</g>
<g class="t2">
<text x="1697" y="3377">名称</text><text x="1918" y="3377">BKLZ6050-R</text>
<text x="1697" y="3411">移动方向</text><text x="1918" y="3411">X轴</text>
<text x="1697" y="3445">主体材质</text><text x="1918" y="3445">SUS440C-无电解镀镍</text>
<text x="1697" y="3483">负载安装台面大小</text><text x="1918" y="3483">60*80mm</text>
<text x="1697" y="3522">主体厚度</text><text x="1918" y="3522">20mm</text>
<text x="1697" y="3556">驱动方式</text><text x="1918" y="3556">28#五相步进电机</text>
<text x="1697" y="3590">驱动部件</text><text x="1918" y="3590">滚珠丝杆(导程1， C3级)</text>
<text x="1697" y="3623">单向定位精度</text><text x="1918" y="3623">12um</text>
<text x="1697" y="3657">重复定位精度</text><text x="1918" y="3657">±0.5um</text>
<text x="1697" y="3691">分辨率</text><text x="1918" y="3691">2um</text>
<text x="1697" y="3724">行程</text><text x="1918" y="3724">±25mm</text>
<text x="1697" y="3757">负载</text><text x="1918" y="3757">5kgf</text>
<text x="1697" y="3791">最大速度</text><text x="1918" y="3791">10mm/sec</text>
<text x="1697" y="3829">平行度</text><text x="1918" y="3829">15um</text>
<text x="1697" y="3867">直线度</text><text x="1918" y="3867">≤2um</text>
<text x="1697" y="3901">重量</text><text x="1918" y="3901">1.3kg</text>
<text x="1697" y="3947">传感器</text><text x="1918" y="3947" letter-spacing="1">CW+CCW+ORG(NPN常闭DC24V)</text>
</g>
<use href="#sym" transform="translate(0,3997)"/>
<text x="1862" y="4009" font-size="30" letter-spacing="4">图号</text>
<text class="big" x="1948" y="4010" letter-spacing="3">BKLZ6050-R</text>
</svg>
</body></html>
